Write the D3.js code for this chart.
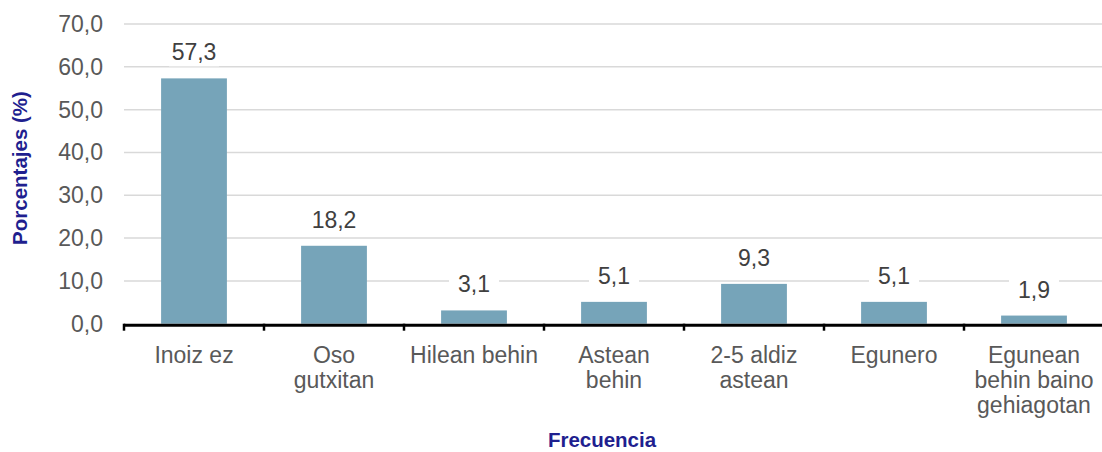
<!DOCTYPE html>
<html><head><meta charset="utf-8">
<script src="https://cdn.jsdelivr.net/npm/d3@7"></script>
<style>
body{margin:0;background:#fff;}
text{font-family:"Liberation Sans",Arial,sans-serif;}
</style></head>
<body>
<svg id="c" width="1102" height="452"></svg>
<script>
const categories = [["Inoiz ez"],["Oso","gutxitan"],["Hilean behin"],["Astean","behin"],["2-5 aldiz","astean"],["Egunero"],["Egunean","behin baino","gehiagotan"]];
const values = [57.3, 18.2, 3.1, 5.1, 9.3, 5.1, 1.9];
const yTicks = [0,10,20,30,40,50,60,70];

const svg = d3.select("#c");
const m = {left:124, right:1104, top:24, bottom:323.7};
const x = d3.scaleBand().domain(d3.range(values.length)).range([m.left, m.right]).paddingInner(0.53).paddingOuter(0.265);
const xb = d3.scaleBand().domain(d3.range(values.length)).range([m.left, m.right]);
const y = d3.scaleLinear().domain([0,70]).range([m.bottom, m.top]);
const fmt = v => d3.format(".1f")(v).replace(".", ",");

// gridlines
svg.append("g").selectAll("line").data(yTicks.filter(d=>d>0)).join("line")
  .attr("x1", m.left).attr("x2", 1102).attr("y1", d=>y(d)).attr("y2", d=>y(d))
  .attr("stroke", "#d9d9d9").attr("stroke-width", 1.5);

// y tick labels
svg.append("g").selectAll("text").data(yTicks).join("text")
  .attr("x", 103).attr("y", d=>y(d)).attr("dy", "0.35em")
  .attr("text-anchor", "end").attr("font-size", 23).attr("fill", "#595959")
  .text(d=>fmt(d));

// bars
svg.append("g").selectAll("rect").data(values).join("rect")
  .attr("x", (d,i)=>x(i)).attr("width", x.bandwidth())
  .attr("y", d=>y(d)).attr("height", d=>y(0)-y(d))
  .attr("fill", "#76a4b9");

// data labels with white background
const lg = svg.append("g").selectAll("g").data(values).join("g")
  .attr("transform", (d,i)=>`translate(${x(i)+x.bandwidth()/2},${y(d)-18})`);
lg.append("rect").attr("x", -25).attr("y", -20).attr("width", 50).attr("height", 26).attr("fill", "#fff");
lg.append("text").attr("text-anchor", "middle").attr("font-size", 23).attr("fill", "#404040").text(d=>fmt(d));

// x axis
const ax = svg.append("g");
ax.append("line").attr("x1", m.left).attr("x2", 1102).attr("y1", y(0)+1.5).attr("y2", y(0)+1.5)
  .attr("stroke", "#000").attr("stroke-width", 3);
ax.selectAll("line.t").data(d3.range(values.length+1)).join("line").attr("class","t")
  .attr("x1", i=>m.left + i*xb.bandwidth()).attr("x2", i=>m.left + i*xb.bandwidth())
  .attr("y1", y(0)).attr("y2", y(0)+7).attr("stroke", "#000").attr("stroke-width", 2.5);

// category labels
const cl = svg.append("g").selectAll("text").data(categories).join("text")
  .attr("text-anchor", "middle").attr("font-size", 23).attr("fill", "#595959")
  .attr("transform", (d,i)=>`translate(${xb(i)+xb.bandwidth()/2},${y(0)+39})`);
cl.selectAll("tspan").data(d=>d).join("tspan").attr("x", 0).attr("dy", (d,j)=>j===0?0:25).text(d=>d);

// axis titles
svg.append("text").attr("transform", "translate(27,168) rotate(-90)").attr("text-anchor", "middle")
  .attr("font-size", 20.5).attr("font-weight", "bold").attr("fill", "#1f1f8f").text("Porcentajes (%)");
svg.append("text").attr("x", 602).attr("y", 447).attr("text-anchor", "middle")
  .attr("font-size", 20.5).attr("font-weight", "bold").attr("fill", "#1f1f8f").text("Frecuencia");
</script>
</body></html>
